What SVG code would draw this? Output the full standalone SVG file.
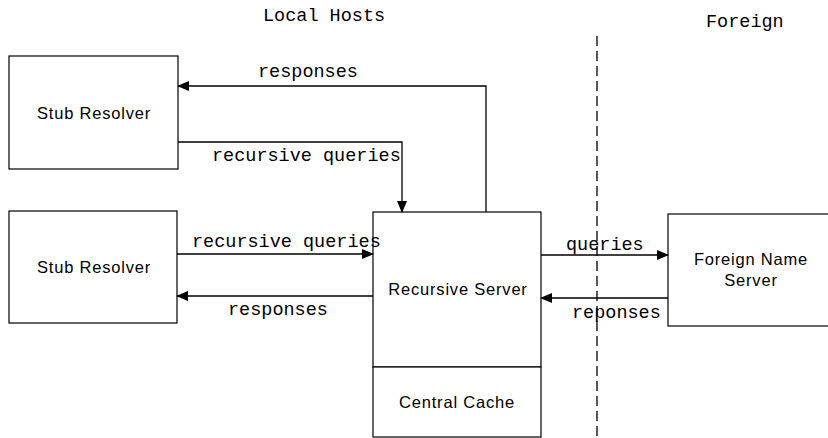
<svg xmlns="http://www.w3.org/2000/svg" width="828" height="438" viewBox="0 0 828 438">
<defs>
<marker id="ah" markerWidth="12" markerHeight="10" refX="11" refY="5" orient="auto" markerUnits="userSpaceOnUse">
<path d="M0,0 L12,5 L0,10 z" fill="#000"/>
</marker>
<style>
.box{fill:#fff;stroke:#000;stroke-width:1.2}
.sans{font-family:"Liberation Sans",Arial,sans-serif;font-size:16.5px;letter-spacing:0.8px;fill:#000;text-anchor:middle}
.mono{font-family:"Liberation Mono","Courier New",monospace;font-size:18.5px;fill:#000}
.conn{fill:none;stroke:#000;stroke-width:1.3}
</style>
</defs>
<rect width="828" height="438" fill="#fff"/>
<g id="labels">
<text class="mono" x="263" y="21">Local Hosts</text>
<text class="mono" x="706" y="27">Foreign</text>
</g>
<line id="boundary" x1="597" y1="36" x2="597" y2="438" stroke="#000" stroke-width="1.3" stroke-dasharray="10 5"/>
<g id="stub1">
<rect class="box" x="9" y="56" width="169" height="113"/>
<text class="sans" x="94" y="119">Stub Resolver</text>
</g>
<g id="stub2">
<rect class="box" x="9" y="211" width="168" height="112"/>
<text class="sans" x="94" y="273">Stub Resolver</text>
</g>
<g id="recursive">
<rect class="box" x="373" y="212" width="168" height="155"/>
<text class="sans" x="458" y="295">Recursive Server</text>
</g>
<g id="cache">
<rect class="box" x="373" y="367" width="168" height="70"/>
<text class="sans" x="457" y="408">Central Cache</text>
</g>
<g id="foreign">
<rect class="box" x="668" y="214" width="170" height="112"/>
<text class="sans" x="751" y="265">Foreign Name</text>
<text class="sans" x="751" y="286">Server</text>
</g>
<g id="connectors">
<path class="conn" d="M486,212 V86 H178" marker-end="url(#ah)"/>
<path class="conn" d="M178,142 H402 V212" marker-end="url(#ah)"/>
<path class="conn" d="M177,254 H373" marker-end="url(#ah)"/>
<path class="conn" d="M373,296 H177" marker-end="url(#ah)"/>
<path class="conn" d="M541,255 H668" marker-end="url(#ah)"/>
<path class="conn" d="M668,298 H541" marker-end="url(#ah)"/>
<text class="mono" x="258" y="77">responses</text>
<text class="mono" x="212" y="161">recursive queries</text>
<text class="mono" x="192" y="247">recursive queries</text>
<text class="mono" x="228" y="315">responses</text>
<text class="mono" x="566" y="250">queries</text>
<text class="mono" x="572" y="318">reponses</text>
</g>
</svg>
